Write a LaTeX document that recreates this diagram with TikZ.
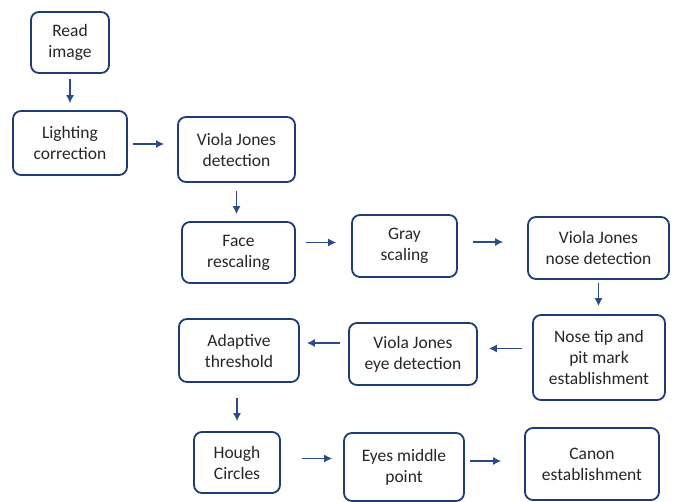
\documentclass[tikz,border=0pt]{standalone}
\usepackage{fontspec}
\setmainfont{Carlito}
\usepackage{xcolor}
\usetikzlibrary{arrows.meta,positioning,calc}
\definecolor{boxblue}{HTML}{1F3A78}
\definecolor{arrowblue}{HTML}{2B4A8A}
\tikzset{
  stepbox/.style={
    rectangle,
    rounded corners=8pt,
    draw=boxblue,
    line width=1.8pt,
    fill=white,
    align=center,
    text=black!85,
    inner sep=2pt,
    font=\fontsize{17.5}{21}\selectfont
  },
  arrow/.style={-{Latex[length=8pt,width=8pt]}, line width=1.2pt, draw=arrowblue,
    shorten <=6pt, shorten >=8pt}
}

\begin{document}
\begin{tikzpicture}[x=1pt,y=-1pt]
  \useasboundingbox (0,0) rectangle (675,502);
  \node[stepbox, minimum width=78pt, minimum height=61pt] (read) at (70,42.5) {Read\\image};
  \node[stepbox, minimum width=114pt, minimum height=64pt] (light) at (70,143) {Lighting\\correction};
  \node[stepbox, minimum width=117pt, minimum height=65pt] (vjd) at (236.5,149.5) {Viola Jones\\detection};
  \node[stepbox, minimum width=113pt, minimum height=61pt] (face) at (238.5,252.5) {Face\\rescaling};
  \node[stepbox, minimum width=105pt, minimum height=62pt] (gray) at (404.5,246) {Gray\\scaling};
  \node[stepbox, minimum width=141pt, minimum height=62pt] (vjn) at (598.5,248) {Viola Jones\\nose detection};
  \node[stepbox, minimum width=132pt, minimum height=85pt] (nose) at (599,357.5) {Nose tip and\\pit mark\\establishment};
  \node[stepbox, minimum width=128pt, minimum height=62pt] (vje) at (413,354) {Viola Jones\\eye detection};
  \node[stepbox, minimum width=120pt, minimum height=63pt] (adapt) at (239,350.5) {Adaptive\\threshold};
  \node[stepbox, minimum width=86pt, minimum height=61pt] (hough) at (237,462.5) {Hough\\Circles};
  \node[stepbox, minimum width=120pt, minimum height=68pt] (eyes) at (404,467) {Eyes middle\\point};
  \node[stepbox, minimum width=134pt, minimum height=72pt] (canon) at (592,464) {Canon\\establishment};

  \draw[arrow, shorten <=5pt, shorten >=7pt] (read) -- (light);
  \draw[arrow, shorten <=5pt, shorten >=13pt] ([yshift=-1pt]light.east) -- ([yshift=-1pt]light.east -| vjd.west);
  \draw[arrow, shorten <=8pt, shorten >=7pt] (vjd.south) -- (vjd.south |- face.north);
  \draw[arrow, shorten <=10pt, shorten >=15pt] ([yshift=10pt]face.east) -- ([yshift=10pt]face.east -| gray.west);
  \draw[arrow, shorten <=15pt, shorten >=24pt] ([yshift=4pt]gray.east) -- ([yshift=4pt]gray.east -| vjn.west);
  \draw[arrow, shorten <=3pt, shorten >=8pt] (vjn.south) -- (vjn.south |- nose.north);
  \draw[arrow, shorten <=10pt, shorten >=11pt] ([yshift=9pt]nose.west) -- ([yshift=9pt]nose.west -| vje.east);
  \draw[arrow, shorten <=8pt, shorten >=7pt] ([yshift=11pt]vje.west) -- ([yshift=11pt]vje.west -| adapt.east);
  \draw[arrow, shorten <=15pt, shorten >=10pt] ([xshift=-2pt]adapt.south) -- ([xshift=-2pt]adapt.south |- hough.north);
  \draw[arrow, shorten <=21pt, shorten >=11pt] ([yshift=4pt]hough.east) -- ([yshift=4pt]hough.east -| eyes.west);
  \draw[arrow, shorten <=5pt, shorten >=23pt] ([yshift=6pt]eyes.east) -- ([yshift=6pt]eyes.east -| canon.west);
\end{tikzpicture}
\end{document}
